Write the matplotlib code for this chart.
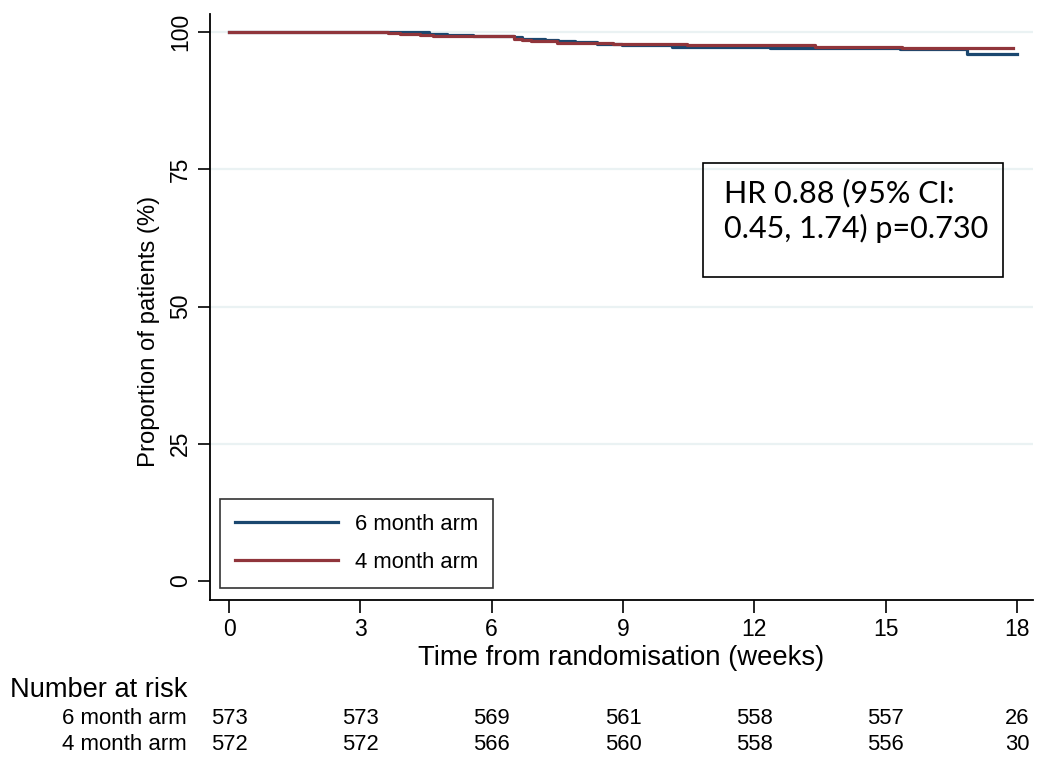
import matplotlib.pyplot as plt
import matplotlib.transforms as mtransforms
from matplotlib.patches import Rectangle

plt.rcParams['font.family'] = ['Liberation Sans', 'DejaVu Sans']

# Kaplan-Meier steps (weeks, % event free)
t_6m = [0, 4.57, 4.98, 5.57, 6.5, 6.7, 7.22, 7.51, 7.9, 8.4, 8.98, 10.12, 12.36, 15.33, 16.86, 18.0]
s_6m = [100, 99.7, 99.45, 99.2, 99.0, 98.7, 98.5, 98.3, 98.1, 97.9, 97.63, 97.32, 97.14, 96.9, 95.97, 95.97]
t_4m = [0, 3.63, 3.9, 4.36, 4.66, 6.5, 6.69, 6.9, 7.49, 8.77, 10.46, 10.8, 13.39, 13.8, 15.37, 17.91]
s_4m = [100, 99.8, 99.6, 99.45, 99.25, 98.8, 98.55, 98.35, 98.05, 97.81, 97.69, 97.58, 97.32, 97.21, 97.14, 97.14]

risk_times = [0, 3, 6, 9, 12, 15, 18]
risk_6m = [573, 573, 569, 561, 558, 557, 26]
risk_4m = [572, 572, 566, 560, 558, 556, 30]

navy = "#1a476f"
maroon = "#90353b"

fig = plt.figure(figsize=(10.37, 7.6), dpi=100)
ax = fig.add_axes([210/1037, 1-600/760, 823/1037, 586/760])

for yv in [25, 50, 75, 100]:
    ax.axhline(yv, color="#eaf2f3", lw=1.6, zorder=0)

ax.step(t_6m, s_6m, where='post', color=navy, lw=2.3, label="6 month arm")
ax.step(t_4m, s_4m, where='post', color=maroon, lw=2.3, label="4 month arm")

ax.set_xlim(-0.434, 18.365)
ax.set_ylim(-3.46, 103.28)
ax.set_xticks(risk_times)
ax.set_yticks([0, 25, 50, 75, 100])
ax.set_yticklabels(["0", "25", "50", "75", "100"], rotation=90, va='center')
ax.tick_params(axis='both', length=9, width=1.2, pad=4, labelsize=16.5)
ax.spines['top'].set_visible(False)
ax.spines['right'].set_visible(False)
ax.spines['left'].set_linewidth(1.3)
ax.spines['bottom'].set_linewidth(1.3)

ax.set_xlabel("Time from randomisation (weeks)", fontsize=19.8, labelpad=3)
ax.set_ylabel("Proportion of patients (%)", fontsize=17.2)
ax.yaxis.set_label_coords(-0.061, 0.459)

leg = ax.legend(loc='lower left', bbox_to_anchor=(0.012, 0.0205), fontsize=15.8,
                frameon=True, fancybox=False, edgecolor='black', handlelength=4.7,
                labelspacing=0.75, borderpad=0.7, handletextpad=0.75, borderaxespad=0)
leg.get_frame().set_linewidth(1.2)

# HR annotation box
fig.patches.append(Rectangle((703/1037, 1-277/760), 300/1037, 114/760, transform=fig.transFigure,
                             fill=False, edgecolor='black', lw=1.2))
fig.text(724/1037, 1-193/760, "HR 0.88 (95% CI:", fontsize=22, family=['Lato', 'DejaVu Sans'], va='center')
fig.text(724/1037, 1-228/760, "0.45, 1.74) p=0.730", fontsize=22, family=['Lato', 'DejaVu Sans'], va='center')

# Number at risk table
fig.text(10/1037, 1-690/760, "Number at risk", fontsize=19.6, va='center')
fig.text(187/1037, 1-718/760, "6 month arm", fontsize=16, va='center', ha='right')
fig.text(187/1037, 1-744/760, "4 month arm", fontsize=16, va='center', ha='right')
trans = mtransforms.blended_transform_factory(ax.transData, fig.transFigure)
for t, a, b in zip(risk_times, risk_6m, risk_4m):
    ax.text(t, 1-718/760, str(a), transform=trans, fontsize=15.8, va='center', ha='center', clip_on=False)
    ax.text(t, 1-744/760, str(b), transform=trans, fontsize=15.8, va='center', ha='center', clip_on=False)

plt.savefig("out.png", dpi=100)
